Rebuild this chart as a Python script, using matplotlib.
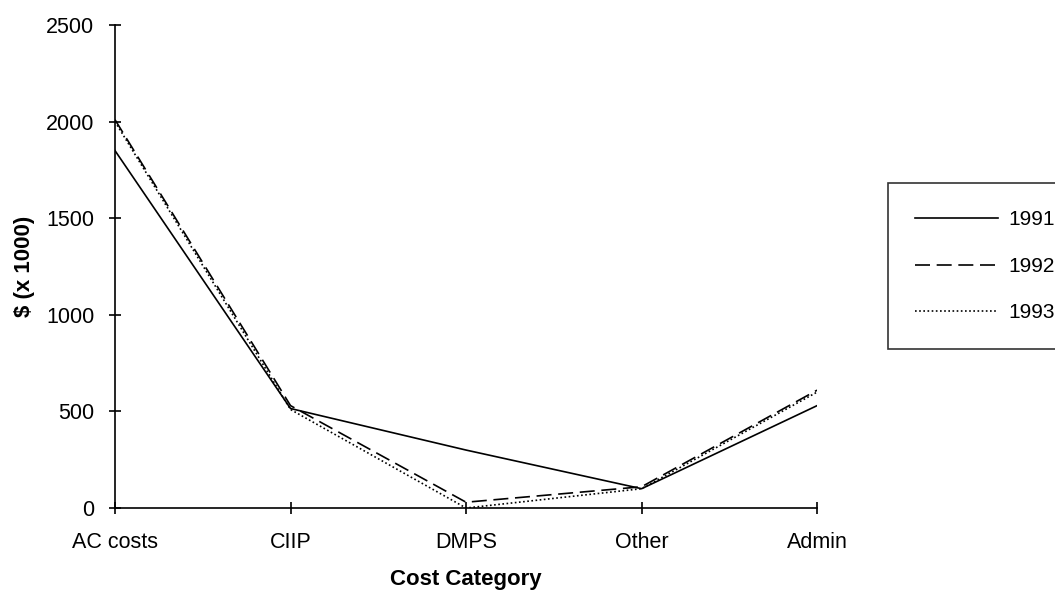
import matplotlib
matplotlib.use('Agg')
import matplotlib.pyplot as plt

plt.rcParams['font.family'] = ['Liberation Sans', 'DejaVu Sans']

categories = ['AC costs', 'CIIP', 'DMPS', 'Other', 'Admin']
years = ['1991', '1992', '1993']
costs_1991 = [1850, 515, 300, 100, 530]
costs_1992 = [2010, 530, 30, 110, 610]
costs_1993 = [2000, 510, 0, 100, 600]

fig = plt.figure(figsize=(10.55, 5.93), dpi=100)
ax = fig.add_axes([0.109, 0.1433, 0.6655, 0.8145])

x = range(len(categories))
l1, = ax.plot(x, costs_1991, color='black', lw=1.2, ls='-')
l2, = ax.plot(x, costs_1992, color='black', lw=1.2, ls=(0, (9, 4)))
l3, = ax.plot(x, costs_1993, color='black', lw=1.2, ls=(0, (1, 1.5)))

ax.set_xlim(0, len(categories) - 1)
ax.set_ylim(0, 2500)
ax.set_yticks(range(0, 2501, 500))
ax.set_xticks(list(x))
ax.set_xticklabels(categories)
for s in ['top', 'right']:
    ax.spines[s].set_visible(False)
ax.spines['left'].set_linewidth(1.2)
ax.spines['bottom'].set_linewidth(1.2)
ax.tick_params(direction='inout', length=8.6, width=1.2, labelsize=15.5)
ax.tick_params(axis='x', pad=13)
ax.tick_params(axis='y', pad=10.5)
ax.set_xlabel('Cost Category', fontsize=16, fontweight='bold')
ax.set_ylabel('$ (x 1000)', fontsize=16, fontweight='bold')
ax.xaxis.set_label_coords(0.5, -0.126)
ax.yaxis.set_label_coords(-0.114, 0.5)

leg = fig.legend([l1, l2, l3], years, loc='upper left', mode='expand',
                 bbox_to_anchor=(0.8417, 0.415, 0.17, 0.276), fontsize=15,
                 handlelength=4.0, handletextpad=0.5, labelspacing=1.32,
                 borderpad=1.3, borderaxespad=0, fancybox=False, frameon=True)
leg.get_frame().set_edgecolor('black')
leg.get_frame().set_linewidth(1.2)

fig.savefig('out.png', dpi=100, facecolor='white')
